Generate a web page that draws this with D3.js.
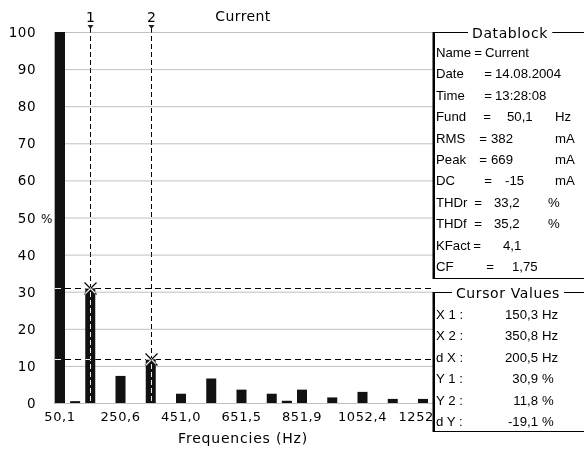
<!DOCTYPE html>
<html>
<head>
<meta charset="utf-8">
<script src="https://cdn.jsdelivr.net/npm/d3@7"></script>
<style>
  html, body { margin: 0; padding: 0; background: #fff; }
  svg { display: block; font-family: "DejaVu Sans", Verdana, sans-serif; }
  .xor { mix-blend-mode: difference; }
  .db { font-family: "Liberation Sans", Arial, sans-serif; font-size: 13.2px; }
</style>
</head>
<body>
<svg id="chart" width="584" height="453"></svg>
<script>
// harmonic spectrum of the current, values in % of the fundamental
var fund = 50.1;
var harmonics = d3.range(1, 26);
var amplitudes = [100, 0.5, 30.9, 0, 7.3, 0, 11.8, 0, 2.5, 0, 6.6, 0, 3.6, 0, 2.5, 0.6, 3.6, 0, 1.5, 0, 3.0, 0, 1.1, 0, 1.1];
var xTickLabels = ['50,1', '250,6', '451,0', '651,5', '851,9', '1052,4', '1252,5'];
var yTicks = [0, 10, 20, 30, 40, 50, 60, 70, 80, 90, 100];

// cursors
var cursorNames = ['1', '2'];
var cursorX = [150.3, 350.8];
var cursorY = [30.9, 11.8];

// datablock
var dbLabels = ['Name', 'Date', 'Time', 'Fund', 'RMS', 'Peak', 'DC', 'THDr', 'THDf', 'KFact', 'CF'];
var dbValues = ['Current', '14.08.2004', '13:28:08', '50,1', '382', '669', '-15', '33,2', '35,2', '4,1', '1,75'];
var dbUnits = ['', '', '', 'Hz', 'mA', 'mA', 'mA', '%', '%', '', ''];

var cvLabels = ['X 1 :', 'X 2 :', 'd X :', 'Y 1 :', 'Y 2 :', 'd Y :'];
var cvValues = ['150,3', '350,8', '200,5', '30,9', '11,8', '-19,1'];
var cvUnits = ['Hz', 'Hz', 'Hz', '%', '%', '%'];

var svg = d3.select('#chart');
var W = 584, H = 453;
var plot = {left: 54, right: 433, top: 32, bottom: 403};
var fs = 13;

svg.append('rect').attr('width', W).attr('height', H).attr('fill', '#fff');

var x = d3.scaleLinear().domain([fund, fund * 25]).range([60, 423]);
var y = d3.scaleLinear().domain([0, 100]).range([plot.bottom, plot.top]);
var barW = 10;

svg.append('clipPath').attr('id', 'plotclip').append('rect')
  .attr('x', 0).attr('y', 0).attr('width', plot.right).attr('height', H);

// grid
svg.append('g').selectAll('line').data(yTicks).enter().append('line')
  .attr('x1', plot.left).attr('x2', plot.right)
  .attr('y1', function(d) { return y(d) + 0.5; }).attr('y2', function(d) { return y(d) + 0.5; })
  .attr('stroke', '#c0c0c0').attr('stroke-width', 1);
svg.append('line').attr('x1', plot.left + 0.5).attr('x2', plot.left + 0.5)
  .attr('y1', plot.top).attr('y2', plot.bottom + 1).attr('stroke', '#b0b0b0');

// y labels
svg.append('g').selectAll('text').data(yTicks).enter().append('text')
  .attr('x', 36).attr('y', function(d) { return y(d) + 5; })
  .attr('text-anchor', 'end').attr('font-size', 13.5).attr('letter-spacing', 0.5)
  .text(function(d) { return d; });
svg.append('text').attr('x', 41).attr('y', y(50) + 5).attr('font-size', fs - 1).text('%');

// bars
svg.append('g').selectAll('rect').data(harmonics).enter().append('rect')
  .attr('x', function(n) { return x(n * fund) - barW / 2; })
  .attr('y', function(n, i) { return y(amplitudes[i]); })
  .attr('width', barW)
  .attr('height', function(n, i) { return plot.bottom - y(amplitudes[i]); })
  .attr('fill', '#111');

// x labels (the last one runs under the datablock)
svg.append('g').attr('clip-path', 'url(#plotclip)')
  .selectAll('text').data(xTickLabels).enter().append('text')
  .attr('x', function(d, i) { return x((1 + i * 4) * fund); })
  .attr('y', 421).attr('text-anchor', 'middle').attr('font-size', fs).attr('letter-spacing', 0.6)
  .text(function(d) { return d; });
svg.append('text').attr('x', 243).attr('y', 443).attr('text-anchor', 'middle')
  .attr('font-size', 14).attr('letter-spacing', 0.8).text('Frequencies (Hz)');

// title
svg.append('text').attr('x', 243).attr('y', 21).attr('text-anchor', 'middle')
  .attr('font-size', 14).attr('letter-spacing', 0.4).text('Current');

// cursors
var cur = svg.append('g');
cursorX.forEach(function(cx, i) {
  var px = Math.round(x(cx)) + 0.5, py = Math.round(y(cursorY[i])) + 0.5;
  cur.append('line').attr('class', 'xor').attr('x1', px).attr('x2', px)
    .attr('y1', 28).attr('y2', plot.bottom)
    .attr('stroke', '#fff').attr('stroke-dasharray', '5,3');
  cur.append('line').attr('class', 'xor').attr('x1', plot.left + 1).attr('x2', plot.right)
    .attr('y1', py).attr('y2', py)
    .attr('stroke', '#fff').attr('stroke-dasharray', '6,4');
  cur.append('path').attr('d', 'M' + (px - 3) + ',25L' + (px + 3) + ',25L' + px + ',29Z').attr('fill', '#222');
  cur.append('text').attr('x', px).attr('y', 22).attr('text-anchor', 'middle')
    .attr('font-size', 14).text(cursorNames[i]);
  cur.append('path').attr('class', 'xor')
    .attr('d', 'M' + (px - 6) + ',' + (py - 6) + 'L' + (px + 6) + ',' + (py + 6) +
      'M' + (px - 6) + ',' + (py + 6) + 'L' + (px + 6) + ',' + (py - 6))
    .attr('stroke', '#fff').attr('stroke-width', 1.2);
});

// group boxes
function groupBox(top, bottom, title, cx) {
  var g = svg.append('g');
  g.append('rect').attr('x', 433).attr('y', top).attr('width', 160).attr('height', bottom - top)
    .attr('fill', '#fff').attr('stroke', '#000').attr('stroke-width', 1);
  g.append('line').attr('x1', 434).attr('x2', 434).attr('y1', top).attr('y2', bottom)
    .attr('stroke', '#000').attr('stroke-width', 2);
  var t = g.append('text').attr('x', cx).attr('y', top + 5).attr('text-anchor', 'middle')
    .attr('font-size', 14).attr('letter-spacing', 0.6).text(title);
  var bb = t.node().getBBox();
  g.insert('rect', 'text').attr('x', bb.x - 4).attr('y', top - 2).attr('width', bb.width + 8).attr('height', 4)
    .attr('fill', '#fff');
  return g;
}

var db = groupBox(32.5, 278.5, 'Datablock', 510);
var eqX = [478, 488, 488, 487, 483, 483, 488, 478, 478, 477, 490];
var valX = [485, 495, 495, 507, 491, 491, 505, 494, 494, 503, 512];
dbLabels.forEach(function(l, i) {
  var ty = 57 + i * 21.4;
  var lab = db.append('text').attr('class', 'db').attr('x', 436).attr('y', ty).text(l);
  var end = 436 + lab.node().getComputedTextLength();
  var ex = Math.max(eqX[i], end + 6);
  db.append('text').attr('class', 'db').attr('x', ex).attr('y', ty).attr('text-anchor', 'middle').text('=');
  db.append('text').attr('class', 'db').attr('x', Math.max(valX[i], ex + 7)).attr('y', ty).text(dbValues[i]);
  if (dbUnits[i]) {
    db.append('text').attr('class', 'db').attr('x', dbUnits[i] === '%' ? 548 : 555).attr('y', ty).text(dbUnits[i]);
  }
});

var cv = groupBox(292.5, 431.5, 'Cursor Values', 508);
cvLabels.forEach(function(l, i) {
  var ty = 319 + i * 21.4;
  cv.append('text').attr('class', 'db').attr('x', 436).attr('y', ty).text(l);
  cv.append('text').attr('class', 'db').attr('x', 538).attr('y', ty).attr('text-anchor', 'end').text(cvValues[i]);
  cv.append('text').attr('class', 'db').attr('x', 542).attr('y', ty).text(cvUnits[i]);
});
</script>
</body>
</html>
